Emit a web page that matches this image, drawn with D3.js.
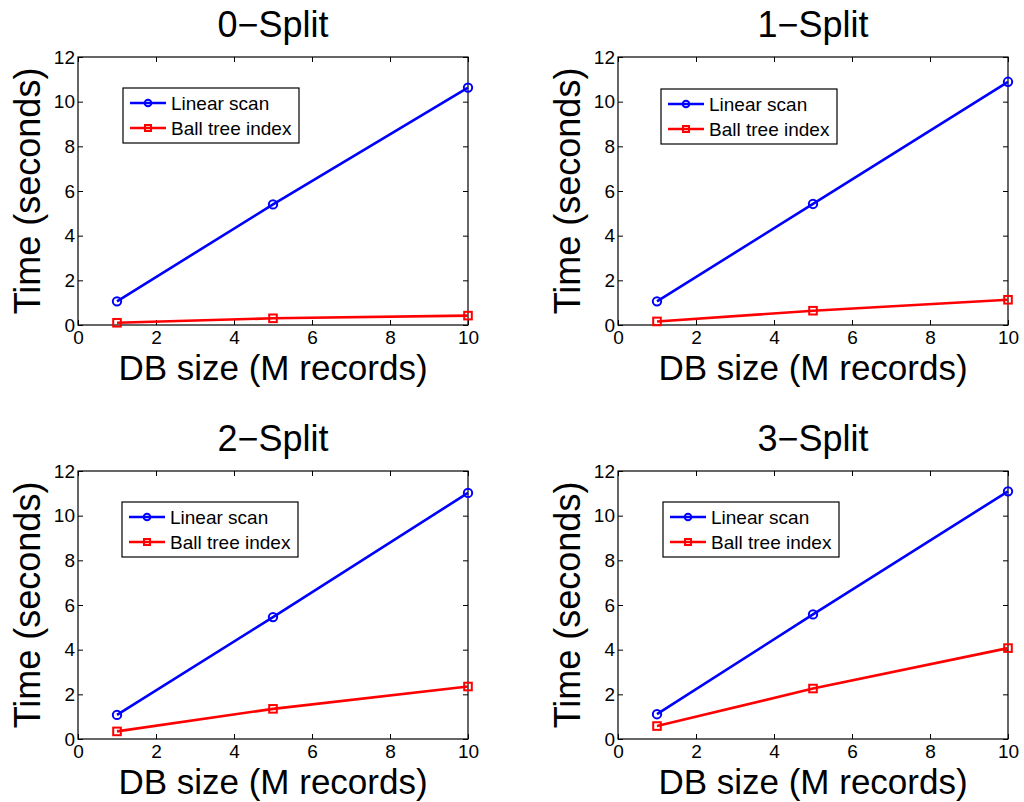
<!DOCTYPE html>
<html>
<head>
<meta charset="utf-8">
<script src="https://cdn.jsdelivr.net/npm/d3@7"></script>
<style>
  html, body { margin: 0; padding: 0; background: #fff; }
  svg { display: block; font-family: "Liberation Sans", Arial, sans-serif; }
</style>
</head>
<body>
<svg id="chart" width="1024" height="802"></svg>
<script>
// Query time vs. database size for each split level
const dbSizes = [1, 5, 10];
const panelTitles = ["0\u2212Split", "1\u2212Split", "2\u2212Split", "3\u2212Split"];
const seriesNames = ["Linear scan", "Ball tree index"];
const xTicks = [0, 2, 4, 6, 8, 10];
const yTicks = [0, 2, 4, 6, 8, 10, 12];

const linearScan0 = [1.06, 5.40, 10.63];
const linearScan1 = [1.06, 5.42, 10.89];
const linearScan2 = [1.08, 5.46, 11.02];
const linearScan3 = [1.11, 5.58, 11.09];

const ballTree0 = [0.10, 0.30, 0.42];
const ballTree1 = [0.16, 0.64, 1.13];
const ballTree2 = [0.34, 1.35, 2.35];
const ballTree3 = [0.58, 2.26, 4.07];

const linearScan = [linearScan0, linearScan1, linearScan2, linearScan3];
const ballTree = [ballTree0, ballTree1, ballTree2, ballTree3];

// Subplot layout: plot-area boxes and legend offsets
const panels = [
  { left: 78,  top: 57,  legX: 45, legY: 31 },
  { left: 618, top: 57,  legX: 43, legY: 32 },
  { left: 78,  top: 471, legX: 44, legY: 31 },
  { left: 618, top: 471, legX: 45, legY: 31 }
];
const plotW = 390, plotH = 268;
const colors = ["#0000ff", "#ff0000"];
const markers = ["circle", "square"];

const svg = d3.select("#chart");

function drawMarker(g, type, x, y, color, size) {
  if (type === "circle") {
    g.append("circle").attr("cx", x).attr("cy", y).attr("r", size * 0.55)
      .attr("fill", "none").attr("stroke", color).attr("stroke-width", 2);
  } else {
    g.append("rect").attr("x", x - size / 2).attr("y", y - size / 2)
      .attr("width", size).attr("height", size)
      .attr("fill", "none").attr("stroke", color).attr("stroke-width", 2);
  }
}

panels.forEach((p, i) => {
  const g = svg.append("g").attr("transform", `translate(${p.left},${p.top})`);
  const x = d3.scaleLinear().domain([0, 10]).range([0, plotW]);
  const y = d3.scaleLinear().domain([0, 12]).range([plotH, 0]);

  // axes with inward ticks on all four sides
  const ax = g.append("g").attr("transform", `translate(0,${plotH})`)
    .call(d3.axisBottom(x).tickValues(xTicks).tickFormat(d3.format("d"))
      .tickSizeInner(-5).tickSizeOuter(0).tickPadding(6));
  const ay = g.append("g")
    .call(d3.axisLeft(y).tickValues(yTicks).tickFormat(d3.format("d"))
      .tickSizeInner(-5).tickSizeOuter(0).tickPadding(3));
  const at = g.append("g")
    .call(d3.axisTop(x).tickValues(xTicks).tickFormat("")
      .tickSizeInner(-5).tickSizeOuter(0));
  const ar = g.append("g").attr("transform", `translate(${plotW},0)`)
    .call(d3.axisRight(y).tickValues(yTicks).tickFormat("")
      .tickSizeInner(-5).tickSizeOuter(0));
  [ax, ay, at, ar].forEach(a => {
    a.select(".domain").remove();
    a.selectAll(".tick line").attr("stroke", "#000").attr("stroke-width", 1);
    a.selectAll(".tick text").attr("fill", "#000")
      .style("font-size", "19px").style("font-family", "'Liberation Sans', Arial, sans-serif");
  });

  g.append("rect").attr("x", 0).attr("y", 0).attr("width", plotW).attr("height", plotH)
    .attr("fill", "none").attr("stroke", "#000").attr("stroke-width", 1.2);

  // data series
  const series = [linearScan[i], ballTree[i]];
  const line = d3.line().x((d, j) => x(dbSizes[j])).y(d => y(d));
  series.forEach((vals, s) => {
    g.append("path").datum(vals).attr("d", line)
      .attr("fill", "none").attr("stroke", colors[s]).attr("stroke-width", 2.6);
    vals.forEach((v, j) => drawMarker(g, markers[s], x(dbSizes[j]), y(v), colors[s], 7.6));
  });

  // title and axis labels
  g.append("text").attr("x", plotW / 2).attr("y", -20)
    .attr("text-anchor", "middle").style("font-size", "36px").text(panelTitles[i]);
  g.append("text").attr("x", plotW / 2).attr("y", plotH + 55)
    .attr("text-anchor", "middle").style("font-size", "35px").text("DB size (M records)");
  g.append("text").attr("transform", `translate(-38,${plotH / 2}) rotate(-90)`)
    .attr("text-anchor", "middle").style("font-size", "36px").text("Time (seconds)");

  // legend
  const lg = g.append("g").attr("transform", `translate(${p.legX},${p.legY})`);
  lg.append("rect").attr("x", 0).attr("y", 0).attr("width", 176).attr("height", 55)
    .attr("fill", "#fff").attr("stroke", "#000").attr("stroke-width", 1.2);
  seriesNames.forEach((name, s) => {
    const cy = 15 + s * 25;
    lg.append("line").attr("x1", 7).attr("x2", 43).attr("y1", cy).attr("y2", cy)
      .attr("stroke", colors[s]).attr("stroke-width", 2.6);
    drawMarker(lg, markers[s], 25, cy, colors[s], 6);
    lg.append("text").attr("x", 48).attr("y", cy + 7)
      .style("font-size", "19px").text(name);
  });
});
</script>
</body>
</html>
